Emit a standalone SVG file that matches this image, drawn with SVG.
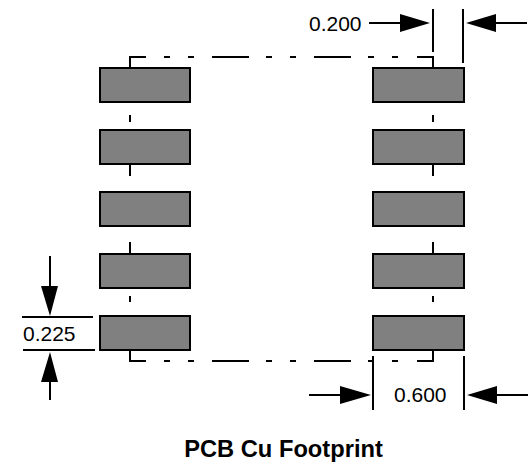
<svg xmlns="http://www.w3.org/2000/svg" width="532" height="466" viewBox="0 0 532 466">
<defs>
<style>
.pad{fill:#808080;stroke:#000;stroke-width:2}
.ln{fill:none;stroke:#000;stroke-width:2}
.hd{fill:#000;stroke:none}
text{font-family:"Liberation Sans",Arial,sans-serif;font-size:21px;fill:#000}
.t{font-weight:bold;font-size:23.7px;text-anchor:middle}
</style>
</defs>
<rect width="532" height="466" fill="#fff"/>
<g id="connectors">
<path class="ln" d="M130 68V57H146M164 57H170M188 57H194M212 57H249M266 57H272M290 57H296M314 57H351M368 57H374M392 57H398M417 57H433V68"/>
<path class="ln" d="M130 350V361H146M164 361H170M188 361H194M212 361H249M266 361H272M290 361H296M314 361H351M368 361H374M392 361H398M417 361H433V350"/>
<path class="ln" d="M130 115V122M130 164V176M130 242V254M130 296V302"/>
<path class="ln" d="M433 115V122M433 164V176M433 242V254M433 296V302"/>
<path class="ln" d="M433 9V52M463 9V63M369 23H400M496 23H527"/>
<path class="hd" d="M400 14L430 23L400 32ZM496 14L466 23L496 32Z"/>
<path class="ln" d="M22 317H93M23 350H95M50 256V286M50 382V400"/>
<path class="hd" d="M41 286H58L50 316ZM41 382H58L50 352Z"/>
<path class="ln" d="M373 356V410M464 356V410M309 395H340M497 395H528"/>
<path class="hd" d="M340 386L371 395L340 404ZM497 386L467 395L497 404Z"/>
</g>
<g id="pad-l1"><rect class="pad" x="100" y="68" width="90" height="34"/></g>
<g id="pad-l2"><rect class="pad" x="100" y="130" width="90" height="34"/></g>
<g id="pad-l3"><rect class="pad" x="100" y="192" width="90" height="34"/></g>
<g id="pad-l4"><rect class="pad" x="100" y="254" width="90" height="34"/></g>
<g id="pad-l5"><rect class="pad" x="100" y="316" width="90" height="34"/></g>
<g id="pad-r1"><rect class="pad" x="373" y="68" width="91" height="34"/></g>
<g id="pad-r2"><rect class="pad" x="373" y="130" width="91" height="34"/></g>
<g id="pad-r3"><rect class="pad" x="373" y="192" width="91" height="34"/></g>
<g id="pad-r4"><rect class="pad" x="373" y="254" width="91" height="34"/></g>
<g id="pad-r5"><rect class="pad" x="373" y="316" width="91" height="34"/></g>
<g id="labels">
<text x="309" y="31">0.200</text>
<text x="23" y="341">0.225</text>
<text x="394" y="402">0.600</text>
<text class="t" x="283.5" y="457">PCB Cu Footprint</text>
</g>
</svg>
